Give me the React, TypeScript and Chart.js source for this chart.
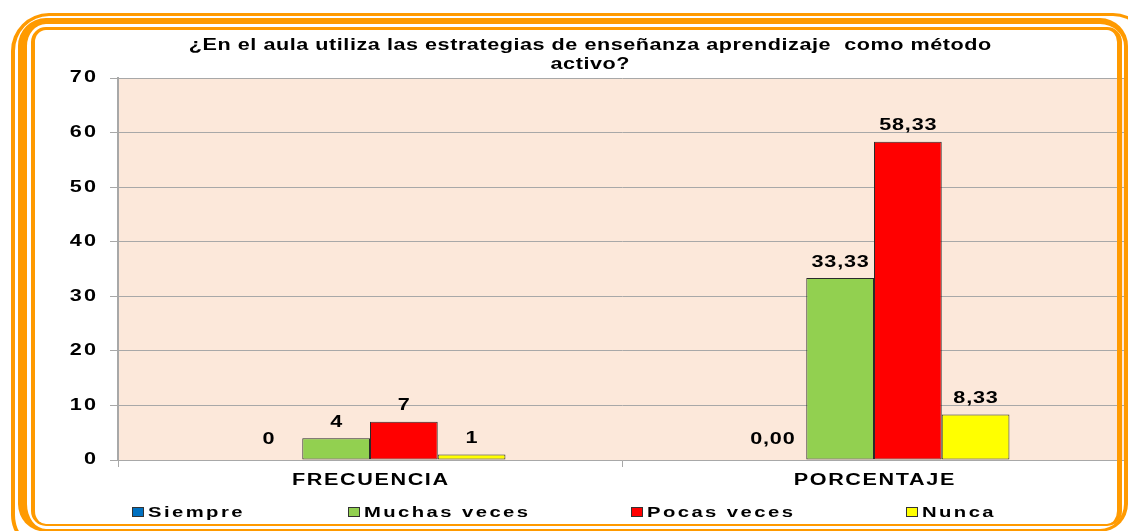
import React, { useEffect, useRef } from "react";
import { Chart, registerables } from "chart.js";

Chart.register(...registerables);

// ---- data ----
const categories = ["FRECUENCIA", "PORCENTAJE"];
const seriesNames = ["Siempre", "Muchas veces", "Pocas veces", "Nunca"];
const siempreValues = [0, 0];
const muchasVecesValues = [4, 33.33];
const pocasVecesValues = [7, 58.33];
const nuncaValues = [1, 8.33];
const labelDecimals = [0, 2];
const yTickValues = [0, 10, 20, 30, 40, 50, 60, 70];
const titleLines = [
  "¿En el aula utiliza las estrategias de enseñanza aprendizaje  como método",
  "activo?",
];

// ---- style ----
const seriesColors = ["#0070C0", "#92D050", "#FF0000", "#FFFF00"];
const FONT = "'Liberation Sans', Arial, Helvetica, sans-serif";
const PLOT_BG = "#FCE8DA";
const GRID = "#A8A8A8";
const ORANGE = "#FF9A00";
const STRETCH = 1.35;
const legendBoxX = [132, 348, 631, 906];

function drawText(
  ctx: CanvasRenderingContext2D,
  text: string,
  x: number,
  y: number,
  align: CanvasTextAlign,
  size: number,
  spacing: number
) {
  ctx.save();
  (ctx as any).letterSpacing = `${spacing}px`;
  ctx.font = `bold ${size}px ${FONT}`;
  ctx.fillStyle = "#000";
  ctx.textAlign = align;
  ctx.textBaseline = "middle";
  ctx.translate(x, y);
  ctx.scale(STRETCH, 1);
  let dx = 0;
  if (align === "center") dx = spacing / 2;
  if (align === "right") dx = spacing;
  ctx.fillText(text, dx, 0);
  ctx.restore();
}

const decorPlugin = {
  id: "decor",
  beforeDraw(chart: any) {
    const { ctx, chartArea: a } = chart;
    ctx.save();
    ctx.fillStyle = PLOT_BG;
    ctx.fillRect(a.left, a.top, a.right - a.left, a.bottom - a.top);
    ctx.restore();
  },
  afterDatasetsDraw(chart: any) {
    const ctx = chart.ctx;
    chart.data.datasets.forEach((ds: any, di: number) => {
      const meta = chart.getDatasetMeta(di);
      meta.data.forEach((el: any, i: number) => {
        const v = ds.data[i] as number;
        const txt = v.toFixed(labelDecimals[i]).replace(".", ",");
        const y = v === 0 ? el.y - 20 : el.y - 16;
        drawText(ctx, txt, el.x, y, "center", 16, 0.6);
      });
    });
  },
  afterDraw(chart: any) {
    const ctx = chart.ctx;
    // axis tick labels, positioned by the library's scales
    const ys = chart.scales.y;
    ys.ticks.forEach((t: any) => {
      drawText(ctx, String(t.value), 96, ys.getPixelForValue(t.value), "right", 16, 1.6);
    });
    const xs = chart.scales.x;
    xs.getLabels().forEach((lab: string, i: number) => {
      drawText(ctx, lab, xs.getPixelForValue(i), 481, "center", 16, 1.2);
    });
    // title
    drawText(ctx, titleLines[0], 590, 46, "center", 16, 0.4);
    drawText(ctx, titleLines[1], 590, 65, "center", 16, 0.4);
    // legend
    seriesNames.forEach((name, i) => {
      const x = legendBoxX[i];
      ctx.save();
      ctx.fillStyle = seriesColors[i];
      ctx.fillRect(x, 507, 12, 10);
      ctx.strokeStyle = "#333";
      ctx.lineWidth = 1;
      ctx.strokeRect(x + 0.5, 507.5, 11, 9);
      ctx.restore();
      drawText(ctx, name, x + 16, 513, "left", 15, 1.8);
    });
  },
};

export default function App() {
  const ref = useRef<HTMLCanvasElement>(null);
  useEffect(() => {
    if (!ref.current) return;
    const seriesValues = [siempreValues, muchasVecesValues, pocasVecesValues, nuncaValues];
    const chart = new Chart(ref.current, {
      type: "bar",
      data: {
        labels: categories,
        datasets: seriesNames.map((name, i) => ({
          label: name,
          data: seriesValues[i],
          backgroundColor: seriesColors[i],
          borderColor: "#2a2a2a",
          borderWidth: i === 0 ? 0 : 1,
          borderSkipped: false,
          categoryPercentage: 0.5375,
          barPercentage: 1,
        })),
      },
      options: {
        responsive: false,
        animation: false,
        devicePixelRatio: 1,
        layout: { padding: { top: 78, left: 0, right: 2, bottom: 41 } },
        plugins: {
          legend: { display: false },
          title: { display: false },
          tooltip: { enabled: false },
        },
        scales: {
          x: {
            ticks: { display: false },
            grid: {
              display: true,
              drawOnChartArea: false,
              drawTicks: true,
              tickLength: 7,
              color: GRID,
              offset: true,
            },
            border: { color: GRID, width: 1 },
            afterFit: (s: any) => {
              s.height = 30;
            },
          },
          y: {
            min: 0,
            max: 70,
            afterBuildTicks: (s: any) => {
              s.ticks = yTickValues.map((v) => ({ value: v }));
            },
            ticks: { display: false },
            grid: { color: GRID, lineWidth: 1, tickLength: 8, drawTicks: true },
            border: { color: GRID, width: 2 },
            afterFit: (s: any) => {
              s.width = 118;
            },
          },
        },
      },
      plugins: [decorPlugin],
    });
    return () => chart.destroy();
  }, []);

  const frame = (style: React.CSSProperties) => (
    <div
      style={{
        position: "absolute",
        boxSizing: "border-box",
        borderStyle: "solid",
        borderColor: ORANGE,
        pointerEvents: "none",
        ...style,
      }}
    />
  );

  return (
    <div
      style={{
        position: "absolute",
        left: 0,
        top: 0,
        width: 1128,
        height: 531,
        overflow: "hidden",
        background: "#fff",
      }}
    >
      <canvas
        ref={ref}
        width={1128}
        height={531}
        style={{ position: "absolute", left: 0, top: 0, width: 1128, height: 531 }}
      />
      {frame({
        left: 11,
        top: 13,
        width: 1140,
        height: 540,
        borderWidth: "3px 3px 3px 4px",
        borderRadius: 38,
      })}
      {frame({
        left: 18,
        top: 18,
        width: 1110,
        height: 514,
        borderWidth: "6px 4px 3px 9px",
        borderRadius: 28,
      })}
      {frame({
        left: 31,
        top: 27,
        width: 1091,
        height: 499,
        borderWidth: "3px 5px 2px 4px",
        borderRadius: 15,
      })}
    </div>
  );
}
